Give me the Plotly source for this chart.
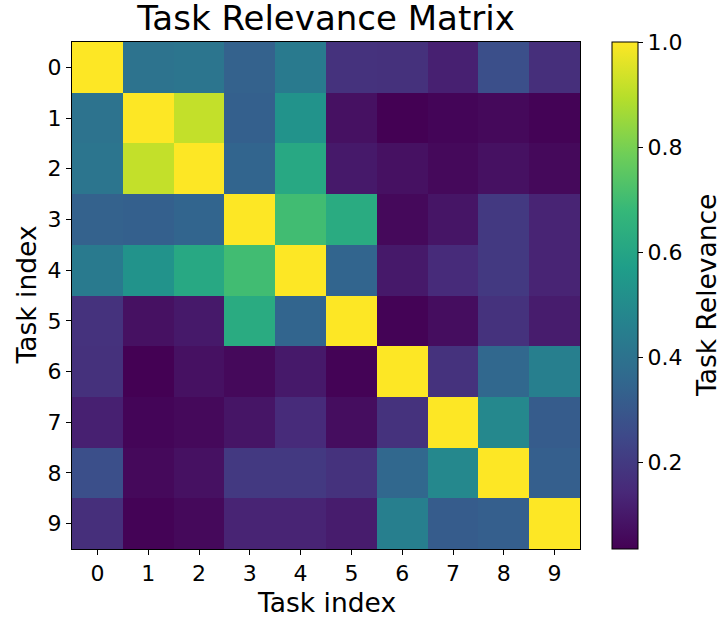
import numpy as np
import plotly.graph_objects as go

tasks = [str(i) for i in range(10)]

row0 = [1.000, 0.400, 0.410, 0.335, 0.432, 0.174, 0.170, 0.121, 0.271, 0.164]
row1 = [0.400, 1.000, 0.914, 0.330, 0.528, 0.078, 0.035, 0.046, 0.057, 0.040]
row2 = [0.410, 0.914, 1.000, 0.346, 0.614, 0.100, 0.078, 0.057, 0.078, 0.057]
row3 = [0.335, 0.330, 0.346, 1.000, 0.700, 0.625, 0.057, 0.089, 0.196, 0.131]
row4 = [0.432, 0.528, 0.614, 0.700, 1.000, 0.346, 0.100, 0.153, 0.196, 0.131]
row5 = [0.174, 0.078, 0.100, 0.625, 0.346, 1.000, 0.040, 0.067, 0.174, 0.110]
row6 = [0.170, 0.035, 0.078, 0.057, 0.100, 0.040, 1.000, 0.174, 0.357, 0.453]
row7 = [0.121, 0.046, 0.057, 0.089, 0.153, 0.067, 0.174, 1.000, 0.485, 0.314]
row8 = [0.271, 0.057, 0.078, 0.196, 0.196, 0.174, 0.357, 0.485, 1.000, 0.325]
row9 = [0.164, 0.040, 0.057, 0.131, 0.131, 0.110, 0.453, 0.314, 0.325, 1.000]

z = [row0, row1, row2, row3, row4, row5, row6, row7, row8, row9]

cb_ticks = [0.2, 0.4, 0.6, 0.8, 1.0]
cb_ticktext = ["0.2", "0.4", "0.6", "0.8", "1.0"]

FONT = "DejaVu Sans"
W, H = 719, 618
L, T = 72, 42
R = W - 580
B = H - 549
pw = W - L - R
ph = H - T - B


def px_x(sx):
    return (sx - L) / pw


def px_y(sy):
    return ((H - B) - sy) / ph


fig = go.Figure(go.Heatmap(
    z=z, x=list(range(10)), y=list(range(10)),
    colorscale="Viridis", zmin=0.035, zmax=1.0,
    colorbar=dict(
        x=px_x(612), xanchor="left", xpad=0,
        y=0.5, yanchor="middle", ypad=0, len=1.0, lenmode="fraction",
        thickness=26, thicknessmode="pixels",
        outlinewidth=1, outlinecolor="black",
        tickvals=cb_ticks, ticktext=cb_ticktext,
        ticks="outside", ticklen=5, tickwidth=1, tickcolor="black",
        tickfont=dict(family=FONT, size=22, color="black"),
    ),
    showscale=True,
))

fig.update_layout(
    width=W, height=H,
    margin=dict(l=L, r=R, t=T, b=B, pad=0, autoexpand=False),
    paper_bgcolor="white", plot_bgcolor="white",
    font=dict(family=FONT, color="black"),
    title=dict(text="Task Relevance Matrix", x=326 / W, xanchor="center", xref="container",
               y=1 - 18 / H, yanchor="middle", yref="container",
               font=dict(family=FONT, size=34, color="black")),
    xaxis=dict(
        tickvals=list(range(10)), ticktext=tasks, range=[-0.5, 9.5],
        ticks="outside", ticklen=5, tickwidth=1, tickcolor="black",
        tickfont=dict(family=FONT, size=22, color="black"),
        showline=True, linecolor="black", linewidth=1, mirror=True,
        showgrid=False, zeroline=False, automargin=False,
    ),
    yaxis=dict(
        tickvals=list(range(10)), ticktext=tasks, range=[9.5, -0.5],
        ticks="outside", ticklen=5, tickwidth=1, tickcolor="black",
        tickfont=dict(family=FONT, size=22, color="black"),
        showline=True, linecolor="black", linewidth=1, mirror=True,
        showgrid=False, zeroline=False, automargin=False,
    ),
    annotations=[
        dict(text="Task index", xref="paper", yref="paper", x=0.5, y=px_y(602),
             xanchor="center", yanchor="middle", showarrow=False,
             font=dict(family=FONT, size=26.5, color="black")),
        dict(text="Task index", xref="paper", yref="paper", x=px_x(26), y=0.5,
             xanchor="center", yanchor="middle", showarrow=False, textangle=-90,
             font=dict(family=FONT, size=26.5, color="black")),
        dict(text="Task Relevance", xref="paper", yref="paper", x=px_x(706), y=px_y(296),
             xanchor="center", yanchor="middle", showarrow=False, textangle=-90,
             font=dict(family=FONT, size=26.5, color="black")),
    ],
)

fig.write_html("out.html", config={"displayModeBar": False},
               post_script="document.body.style.margin='0';")
